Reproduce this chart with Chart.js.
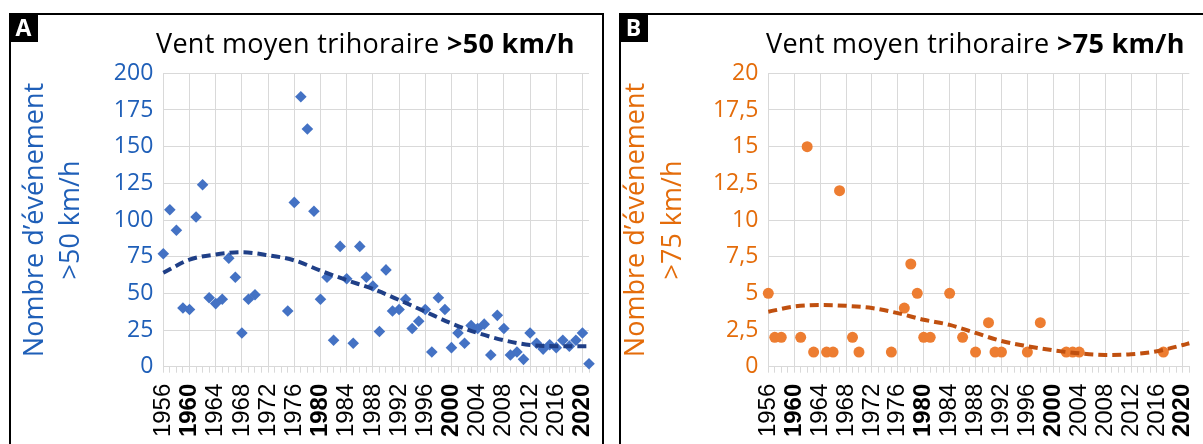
<!DOCTYPE html>
<html lang="fr">
<head>
<meta charset="utf-8">
<script src="https://cdn.jsdelivr.net/npm/chart.js@4.4.1/dist/chart.umd.min.js"></script>
<style>
  body { margin: 0; width: 1203px; height: 444px; overflow: hidden; background: #fff; position: relative; font-family: "Open Sans", sans-serif; }
  .cadre { position: absolute; top: 13px; height: 480px; border: 2.5px solid #000; box-sizing: border-box; }
  #cadreA { left: 9px; width: 595px; }
  #cadreB { left: 619px; width: 640px; }
  .lettre { position: absolute; top: 13px; width: 29px; height: 29px; background: #000; color: #fff;
            font: bold 23px "Open Sans", sans-serif; line-height: 29px; text-align: center; z-index: 2; }
  .titre { position: absolute; top: 29px; font-size: 27px; line-height: 27px; letter-spacing: 0.3px; white-space: nowrap; color: #000; z-index: 2; }
  canvas { position: absolute; top: 0; z-index: 1; }
</style>
</head>
<body>
<div class="cadre" id="cadreA"></div>
<div class="cadre" id="cadreB"></div>
<div class="lettre" style="left:9px">A</div>
<div class="lettre" style="left:619px">B</div>
<div class="titre" style="left:156px">Vent moyen trihoraire <b>&gt;50 km/h</b></div>
<div class="titre" style="left:766px">Vent moyen trihoraire <b>&gt;75 km/h</b></div>
<canvas id="grapheA" width="600" height="444" style="left:0"></canvas>
<canvas id="grapheB" width="598" height="444" style="left:605px"></canvas>
<script>
// nombre d'événements par an, vent moyen trihoraire > 50 km/h
const anneesA = [1956, 1957, 1958, 1959, 1960, 1961, 1962, 1963, 1964, 1965, 1966, 1967, 1968, 1969, 1970,
  1975, 1976, 1977, 1978, 1979, 1980, 1981, 1982, 1983, 1984, 1985, 1986, 1987, 1988, 1989, 1990,
  1991, 1992, 1993, 1994, 1995, 1996, 1997, 1998, 1999, 2000, 2001, 2002, 2003, 2004, 2005, 2006,
  2007, 2008, 2009, 2010, 2011, 2012, 2013, 2014, 2015, 2016, 2017, 2018, 2019, 2020, 2021];
const valeursA = [77, 107, 93, 40, 39, 102, 124, 47, 43, 46, 74, 61, 23, 46, 49,
  38, 112, 184, 162, 106, 46, 61, 18, 82, 60, 16, 82, 61, 55, 24, 66,
  38, 39, 46, 26, 31, 39, 10, 47, 39, 13, 23, 16, 28, 26, 29, 8,
  35, 26, 8, 10, 5, 23, 16, 12, 15, 13, 18, 14, 18, 23, 2];

// vent moyen trihoraire > 75 km/h
const anneesB = [1956, 1957, 1958, 1961, 1962, 1963, 1965, 1966, 1967, 1969, 1970, 1975, 1977, 1978, 1979,
  1980, 1981, 1984, 1986, 1988, 1990, 1991, 1992, 1996, 1998, 2002, 2003, 2004, 2017];
const valeursB = [5, 2, 2, 2, 15, 1, 1, 1, 12, 2, 1, 1, 4, 7, 5,
  2, 2, 5, 2, 1, 3, 1, 1, 1, 3, 1, 1, 1, 1];

// courbes de tendance (polynomiales)
const anneesTendance = [1956, 1960, 1964, 1968, 1972, 1976, 1980, 1984, 1988, 1992, 1996, 2000, 2004, 2008, 2012, 2016, 2020, 2021];
const tendanceA = [64, 73, 76.5, 78, 76, 72.5, 65.5, 59, 53, 45.5, 37.5, 29.5, 23, 18, 14.8, 14, 14, 14];
const tendanceB = [3.75, 4.1, 4.2, 4.15, 4.0, 3.65, 3.2, 2.85, 2.3, 1.75, 1.4, 1.12, 0.91, 0.8, 0.85, 1.05, 1.48, 1.6];

const graduationsX = [1956, 2021];

function points(annees, valeurs) {
  return annees.map((a, i) => ({ x: a, y: valeurs[i] }));
}

function creerGraphique(id, cfg) {
  return new Chart(document.getElementById(id), {
    type: 'scatter',
    data: {
      datasets: [
        {
          type: 'line',
          data: points(anneesTendance, cfg.tendance),
          showLine: true,
          borderColor: cfg.couleurTendance,
          borderWidth: 4,
          borderDash: [9, 5],
          pointRadius: 0,
          fill: false,
          cubicInterpolationMode: 'monotone',
          clip: false,
          order: 0
        },
        {
          data: points(cfg.annees, cfg.valeurs),
          pointStyle: cfg.forme,
          pointRadius: cfg.rayon,
          backgroundColor: cfg.couleurPoints,
          borderColor: cfg.couleurPoints,
          borderWidth: 0,
          clip: false,
          order: 1
        }
      ]
    },
    options: {
      responsive: false,
      animation: false,
      devicePixelRatio: 1,
      layout: { padding: { left: cfg.margeGauche, top: 73.3, right: cfg.margeDroite, bottom: 0 } },
      plugins: { legend: { display: false }, tooltip: { enabled: false } },
      scales: {
        x: {
          type: 'linear',
          min: graduationsX[0],
          max: graduationsX[1],
          afterFit: (s) => { s.height = 77.3; s.paddingLeft = 0; s.paddingRight = 0; },
          ticks: {
            stepSize: 1,
            maxTicksLimit: 100,
            autoSkip: false,
            minRotation: 90,
            maxRotation: 90,
            padding: 11,
            color: '#000',
            font: (c) => ({
              family: '"Liberation Sans", Arial, sans-serif',
              size: 24,
              weight: (c.tick && c.tick.value % 20 === 0) ? 'bold' : 'normal'
            }),
            callback: (v) => (v % 4 === 0 ? String(v) : '')
          },
          grid: {
            color: (c) => (c.tick && c.tick.value % 4 === 0 ? '#d9d9d9' : 'rgba(0,0,0,0)'),
            tickColor: '#d9d9d9',
            tickLength: 6
          },
          border: { color: '#d9d9d9' }
        },
        y: {
          min: 0,
          max: cfg.max,
          afterFit: (s) => { s.width = cfg.largeurY; },
          ticks: {
            stepSize: cfg.pas,
            padding: 10,
            color: cfg.couleurTexte,
            font: { family: '"Open Sans", sans-serif', size: 23 },
            callback: (v) => String(v).replace('.', ',')
          },
          grid: { color: '#d9d9d9', drawTicks: false },
          border: { color: '#d9d9d9' },
          title: {
            display: true,
            text: cfg.titreY,
            color: cfg.couleurTexte,
            font: { family: '"Open Sans", sans-serif', size: 27, lineHeight: 1.36 },
            padding: { top: 0, bottom: 0 }
          }
        }
      }
    }
  });
}

creerGraphique('grapheA', {
  annees: anneesA, valeurs: valeursA, tendance: tendanceA,
  max: 200, pas: 25,
  forme: 'rectRot', rayon: 5.8,
  couleurPoints: '#4472C4', couleurTendance: '#1F3F87', couleurTexte: '#1F5FB8',
  titreY: ['Nombre d\u2019événement', '>50 km/h'],
  margeGauche: 16.6, margeDroite: 11, largeurY: 146.7
});

creerGraphique('grapheB', {
  annees: anneesB, valeurs: valeursB, tendance: tendanceB,
  max: 20, pas: 2.5,
  forme: 'circle', rayon: 5.5,
  couleurPoints: '#ED7D31', couleurTendance: '#C0500F', couleurTexte: '#E46C0A',
  titreY: ['Nombre d\u2019événement', '>75 km/h'],
  margeGauche: 13.3, margeDroite: 13.7, largeurY: 150
});
</script>
</body>
</html>
